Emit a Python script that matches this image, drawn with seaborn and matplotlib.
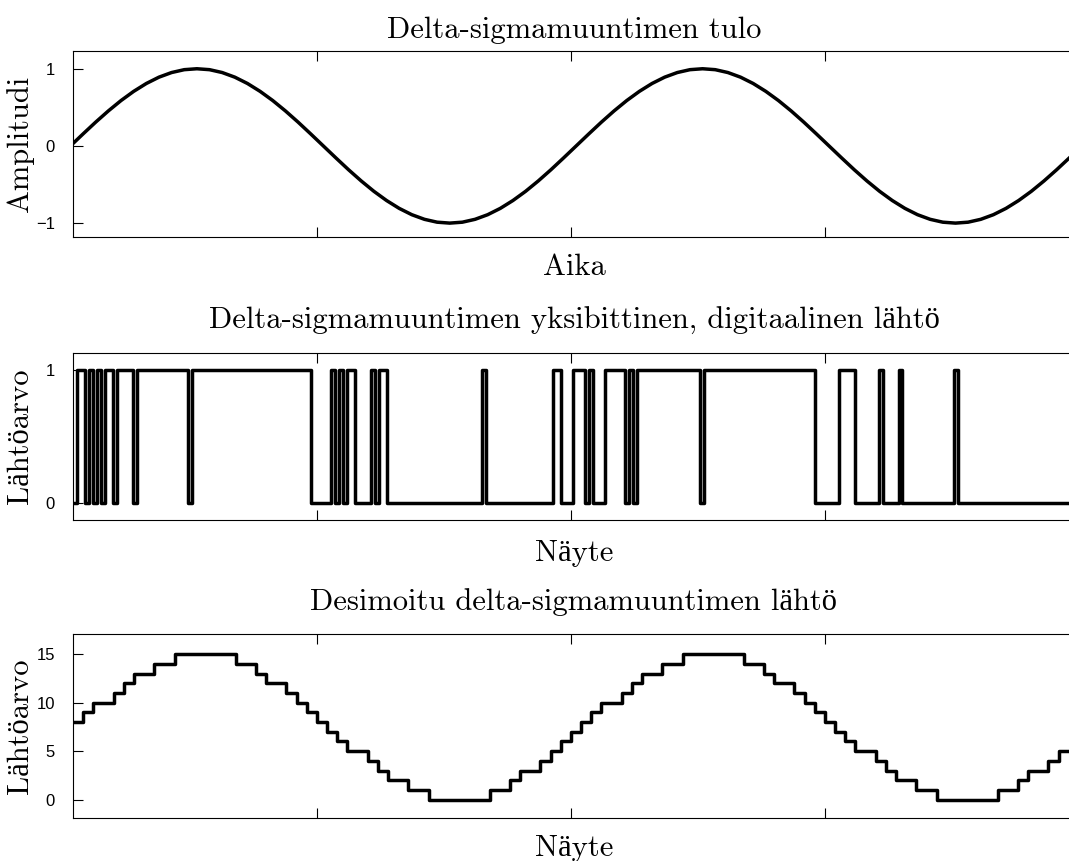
import numpy as np
import pandas as pd
import matplotlib
matplotlib.use("Agg")
import matplotlib.pyplot as plt
import seaborn as sns

# ---------------- data ----------------
# Input sine (read at 9-degree steps of its phase), two periods
tulo_arvo = [0.0, 0.156, 0.309, 0.454, 0.588, 0.707, 0.809, 0.891, 0.951, 0.988,
             1.0, 0.988, 0.951, 0.891, 0.809, 0.707, 0.588, 0.454, 0.309, 0.156,
             0.0, -0.156, -0.309, -0.454, -0.588, -0.707, -0.809, -0.891, -0.951, -0.988,
             -1.0, -0.988, -0.951, -0.891, -0.809, -0.707, -0.588, -0.454, -0.309, -0.156,
             0.0, 0.156, 0.309, 0.454, 0.588, 0.707, 0.809, 0.891, 0.951, 0.988,
             1.0, 0.988, 0.951, 0.891, 0.809, 0.707, 0.588, 0.454, 0.309, 0.156,
             0.0, -0.156, -0.309, -0.454, -0.588, -0.707, -0.809, -0.891, -0.951, -0.988,
             -1.0, -0.988, -0.951, -0.891, -0.809, -0.707, -0.588, -0.454, -0.309, -0.156,
             0.0]
tulo_aika_alku = 0.75
tulo_aika_loppu = 100.3

# One-bit output: run lengths of alternating values, first run is 0
bitti_ajot = [1, 2, 1, 1, 1, 1, 1, 2, 1, 4, 1, 13, 1, 30, 5, 1, 1, 1, 1, 2, 4, 1, 1, 2,
              24, 1, 17, 2, 3, 3, 1, 1, 3, 5, 1, 1, 1, 16, 1, 28, 6, 4, 6, 1, 4, 1, 13, 1, 28]
bitti_ensimmainen = 0
bitti_kesto = 25 / 64          # one bit, in decimated-sample units

# Decimated output, samples 1..98
desimoitu = [8, 9, 10, 10, 11, 12, 13, 13, 14, 14, 15, 15, 15, 15, 15, 15, 14, 14, 13, 12,
             12, 11, 10, 9, 8, 7, 6, 5, 5, 4, 3, 2, 2, 1, 1, 0, 0, 0, 0, 0,
             0, 1, 1, 2, 3, 3, 4, 5, 6, 7, 8, 9, 10, 10, 11, 12, 13, 13, 14, 14,
             15, 15, 15, 15, 15, 15, 14, 14, 13, 12, 12, 11, 10, 9, 8, 7, 6, 5, 5, 4,
             3, 2, 2, 1, 1, 0, 0, 0, 0, 0, 0, 1, 1, 2, 3, 3, 4, 5]

x_tikit = [25, 50, 75]
x_alku = 1
y_tikit_tulo = [-1, 0, 1]
y_tikit_bitti = [0, 1]
y_tikit_des = [0, 5, 10, 15]

otsikot = ["Delta-sigmamuuntimen tulo",
           "Delta-sigmamuuntimen yksibittinen, digitaalinen lähtö",
           "Desimoitu delta-sigmamuuntimen lähtö"]
x_nimet = ["Aika", "Näyte", "Näyte"]
y_nimet = ["Amplitudi", "Lähtöarvo", "Lähtöarvo"]

# ---------------- frames ----------------
df_tulo = pd.DataFrame({"t": np.linspace(tulo_aika_alku, tulo_aika_loppu, len(tulo_arvo)),
                        "y": tulo_arvo})

arvot = [(bitti_ensimmainen + i) % 2 for i in range(len(bitti_ajot))]
bitit = np.repeat(arvot, bitti_ajot)
bitit = np.append(bitit, bitit[-1])
df_bitti = pd.DataFrame({"n": x_alku + np.arange(len(bitit)) * bitti_kesto, "y": bitit})

des = np.append(desimoitu, desimoitu[-1])
df_des = pd.DataFrame({"n": np.arange(1, len(des) + 1), "y": des})

# ---------------- style ----------------
sns.set_theme(style="ticks", rc={
    "axes.edgecolor": "black", "xtick.color": "black", "ytick.color": "black",
    "text.color": "black", "axes.labelcolor": "black", "axes.linewidth": 0.8,
})
plt.rcParams["font.family"] = ["cmr10", "Liberation Serif"]
plt.rcParams["axes.unicode_minus"] = True

W, H = 1069, 861
fig = plt.figure(figsize=(W / 100, H / 100), dpi=100)
fig.patch.set_facecolor("white")

LEFT_PX, RIGHT_PX = 73, 1075
PX_PER_SAMPLE = 254 / 25
x_loppu = x_alku + (RIGHT_PX - LEFT_PX) / PX_PER_SAMPLE

def rect(top_px, bot_px):
    return [LEFT_PX / W, 1 - bot_px / H, (RIGHT_PX - LEFT_PX) / W, (bot_px - top_px) / H]

ax1 = fig.add_axes(rect(51, 237))
ax2 = fig.add_axes(rect(353, 520))
ax3 = fig.add_axes(rect(634, 818))

lw = 2.5
sns.lineplot(data=df_tulo, x="t", y="y", ax=ax1, color="black", linewidth=lw,
             estimator=None, sort=False)
sns.lineplot(data=df_bitti, x="n", y="y", ax=ax2, color="black", linewidth=lw,
             estimator=None, sort=False, drawstyle="steps-post")
sns.lineplot(data=df_des, x="n", y="y", ax=ax3, color="black", linewidth=lw,
             estimator=None, sort=False, drawstyle="steps-post")

ax1.set_ylim(-1.18, 1.23)
ax2.set_ylim(-0.128, 1.128)
ax3.set_ylim(-1.9, 17.1)
ax1.set_yticks(y_tikit_tulo)
ax2.set_yticks(y_tikit_bitti)
ax3.set_yticks(y_tikit_des)

title_pads = [9.5, 17, 17]
label_pads = [12, 14, 12]
for ax, ot, xn, yn, tp, lp in zip([ax1, ax2, ax3], otsikot, x_nimet, y_nimet,
                                  title_pads, label_pads):
    ax.set_xlim(x_alku, x_loppu)
    ax.set_xticks(x_tikit)
    ax.tick_params(direction="in", length=7, width=0.8, top=True, right=False,
                   labelbottom=False, labelsize=12, pad=13)
    for lbl in ax.get_yticklabels():
        lbl.set_fontfamily("Liberation Sans")
    for s in ax.spines.values():
        s.set_visible(True)
        s.set_linewidth(0.8)
        s.set_color("black")
    ax.set_title(ot, fontsize=22, pad=tp)
    ax.set_xlabel(xn, fontsize=22, labelpad=lp)
    ax.set_ylabel(yn, fontsize=22)
    ax.yaxis.set_label_coords(-0.039, 0.5)

fig.savefig("out.png", dpi=100, facecolor="white")
